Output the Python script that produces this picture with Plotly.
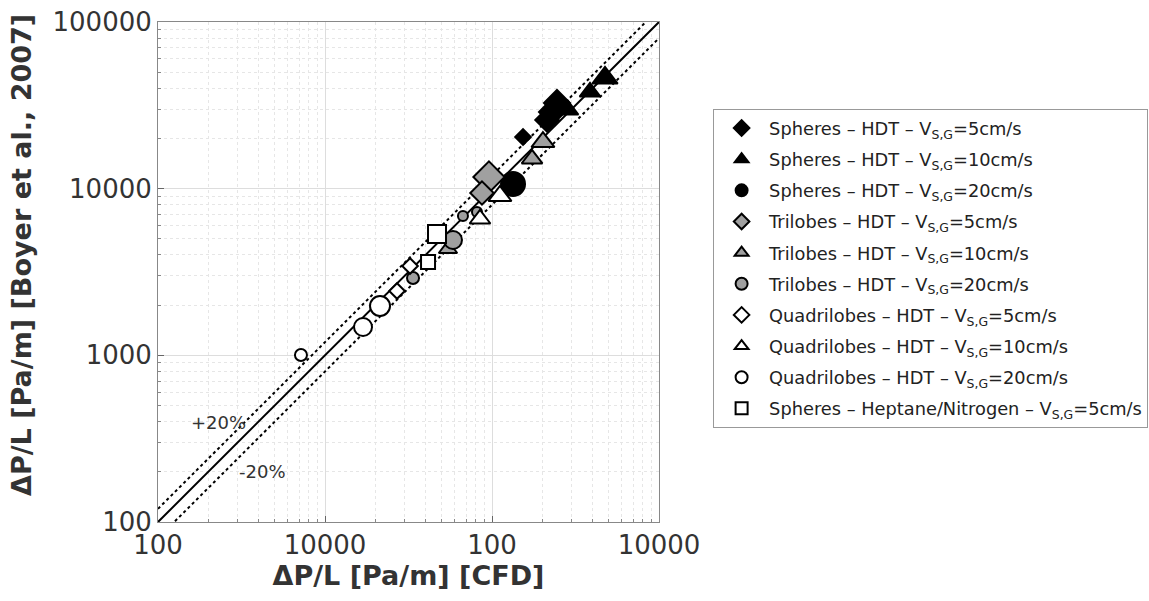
import plotly.graph_objects as go
import math

# ---------------- data ----------------
sph5_x = [24500, 22870, 21340, 15340]
sph5_y = [32660, 28840, 25820, 20420]
sph10_x = [47500, 38620, 28510]
sph10_y = [46130, 38020, 29650]
sph20_x = [13360]
sph20_y = [10670]
tri5_x = [9590, 8710]
tri5_y = [11750, 9420]
tri10_x = [20190, 17370, 5450]
tri10_y = [19050, 15070, 4345]
tri20_x = [5840, 3365, 6700, 8130]
tri20_y = [4920, 2910, 6855, 7244]
quad5_x = [2700, 3230]
quad5_y = [2432, 3436]
quad10_x = [11160, 8475]
quad10_y = [9036, 6577]
quad20_x = [718, 1689, 2135]
quad20_y = [1005, 1479, 1977]
hept_x = [4140, 4685]
hept_y = [3631, 5346]

names = [
    "Spheres – HDT – V<sub>S,G</sub>=5cm/s",
    "Spheres – HDT – V<sub>S,G</sub>=10cm/s",
    "Spheres – HDT – V<sub>S,G</sub>=20cm/s",
    "Trilobes – HDT – V<sub>S,G</sub>=5cm/s",
    "Trilobes – HDT – V<sub>S,G</sub>=10cm/s",
    "Trilobes – HDT – V<sub>S,G</sub>=20cm/s",
    "Quadrilobes – HDT – V<sub>S,G</sub>=5cm/s",
    "Quadrilobes – HDT – V<sub>S,G</sub>=10cm/s",
    "Quadrilobes – HDT – V<sub>S,G</sub>=20cm/s",
    "Spheres – Heptane/Nitrogen – V<sub>S,G</sub>=5cm/s",
]

x_tickvals = [100, 1000, 10000, 100000]
x_ticktext = ["100", "10000", "100", "10000"]
y_tickvals = [100, 1000, 10000, 100000]
y_ticktext = ["100", "1000", "10000", "100000"]

ref_x = [100, 100000]
band = 0.2

# ---------------- styles ----------------
series = [
    (sph5_x, sph5_y, "diamond", "black", [20, 20, 18, 12]),
    (sph10_x, sph10_y, "triangle-up", "black", [22, 18, 18]),
    (sph20_x, sph20_y, "circle", "black", [24]),
    (tri5_x, tri5_y, "diamond", "#a0a0a0", [24, 18]),
    (tri10_x, tri10_y, "triangle-up", "#a0a0a0", [20, 18, 16]),
    (tri20_x, tri20_y, "circle", "#a0a0a0", [18, 12, 10, 10]),
    (quad5_x, quad5_y, "diamond", "white", [12, 12]),
    (quad10_x, quad10_y, "triangle-up", "white", [20, 18]),
    (quad20_x, quad20_y, "circle", "white", [12, 18, 20]),
    (hept_x, hept_y, "square", "white", [14, 18]),
]

fig = go.Figure()

# reference lines
fig.add_trace(go.Scatter(x=ref_x, y=ref_x, mode="lines",
                         line=dict(color="black", width=2), showlegend=False, hoverinfo="skip"))
fig.add_trace(go.Scatter(x=ref_x, y=[v * (1 + band) for v in ref_x], mode="lines",
                         line=dict(color="black", width=2, dash="dot"), showlegend=False, hoverinfo="skip"))
fig.add_trace(go.Scatter(x=ref_x, y=[v * (1 - band) for v in ref_x], mode="lines",
                         line=dict(color="black", width=2, dash="dot"), showlegend=False, hoverinfo="skip"))

for i, ((xs, ys, sym, col, sz), nm) in enumerate(zip(series, names)):
    fig.add_trace(go.Scatter(
        x=xs, y=ys, mode="markers", name=nm, legendgroup=f"g{i}",
        marker=dict(symbol=sym, color=col, size=sz, opacity=1,
                    line=dict(color="black", width=2)),
    ))

minor_vals = [m * 10 ** d for d in range(2, 5) for m in range(2, 10)]

tickfont = dict(family="DejaVu Sans", size=26, color="#333")
axis_common = dict(
    type="log", showline=True, linecolor="#888", linewidth=1, mirror=True,
    ticks="inside", ticklen=6, tickcolor="#666",
    showgrid=True, gridcolor="#dddddd", gridwidth=1,
    minor=dict(tickvals=minor_vals, showgrid=True, gridcolor="#e6e6e6", griddash="dot",
               ticks="inside", ticklen=3, tickcolor="#888"),
    zeroline=False, tickfont=tickfont,
)

fig.update_xaxes(range=[2, 5], tickvals=x_tickvals, ticktext=x_ticktext,
                 title=dict(text="<b>ΔP/L [Pa/m] [CFD]</b>",
                            font=dict(family="DejaVu Sans", size=27, color="#333"),
                            standoff=4),
                 **axis_common)
fig.update_yaxes(range=[2, 5], tickvals=y_tickvals, ticktext=y_ticktext, **axis_common)

# y-axis title (placed as annotation to match its position)
fig.add_annotation(xref="paper", yref="paper", x=-0.2715, y=0.534,
                   text="<b>ΔP/L [Pa/m] [Boyer et al., 2007]</b>", textangle=-90,
                   showarrow=False, xanchor="center", yanchor="middle",
                   font=dict(family="DejaVu Sans", size=27, color="#333"))

fig.add_annotation(x=math.log10(229), y=math.log10(393), text="+20%", showarrow=False,
                   font=dict(family="DejaVu Sans", size=18, color="#333"))
fig.add_annotation(x=math.log10(420), y=math.log10(202), text="-20%", showarrow=False,
                   font=dict(family="DejaVu Sans", size=18, color="#333"))

fig.update_layout(
    width=1149, height=601,
    margin=dict(l=158, r=490, t=22, b=79, autoexpand=False),
    paper_bgcolor="white", plot_bgcolor="white",
    legend=dict(x=1.108, y=0.826, xanchor="left", yanchor="top",
                bordercolor="#999", borderwidth=1, bgcolor="white",
                itemsizing="constant", itemwidth=45, tracegroupgap=5,
                font=dict(family="DejaVu Sans", size=17.8, color="#222")),
)

fig.write_html("out.html")
